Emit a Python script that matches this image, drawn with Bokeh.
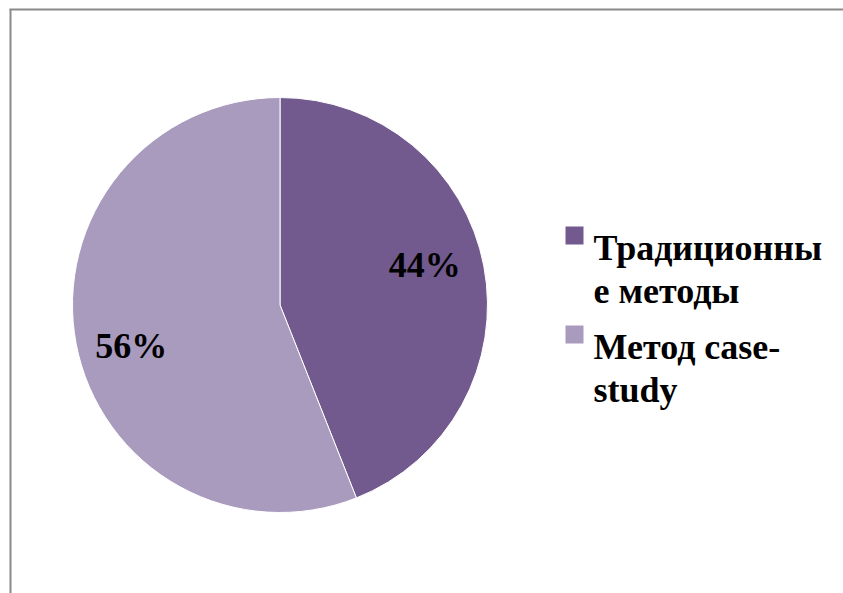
import math
from bokeh.plotting import figure
from bokeh.models import Range1d, ColumnDataSource
from bokeh.core.properties import value
from bokeh.embed import file_html
from bokeh.resources import INLINE

# ---- data ----
categories = ["Традиционные методы", "Метод case-study"]
shares = [44, 56]
pct_labels = ["44%", "56%"]
legend_lines = [["Традиционны", "е методы"], ["Метод case-", "study"]]
colors = ["#725A8E", "#A99BBE"]

W, H = 843, 593
FONT = value("Liberation Serif")
p = figure(width=W, height=H, output_backend="svg", toolbar_location=None,
           x_range=Range1d(0, W), y_range=Range1d(0, H), min_border=0)
p.axis.visible = False
p.grid.visible = False
p.outline_line_color = None
p.background_fill_color = "white"

def X(px):
    return px

def Y(py):
    return H - py

# frame (left & top edges visible)
p.line([X(10), X(10)], [Y(9), Y(600)], line_color="#8a8a8a", line_width=2)
p.line([X(9), X(860)], [Y(9), Y(9)], line_color="#8a8a8a", line_width=2)

# pie
cx, cy, r = X(279.5), Y(304.5), 207.5
total = sum(shares)
starts, ends, mids = [], [], []
acc = 0.0
for s in shares:
    a0 = math.pi / 2 - 2 * math.pi * acc / total
    acc += s
    a1 = math.pi / 2 - 2 * math.pi * acc / total
    starts.append(a0)
    ends.append(a1)
    mids.append((a0 + a1) / 2)

src = ColumnDataSource(dict(start=starts, end=ends, color=colors))
p.wedge(x=cx, y=cy, radius=r, start_angle="start", end_angle="end",
        direction="clock", fill_color="color", line_color="white",
        line_width=1, source=src)

# percent labels
lab_r = [0.70, 0.72]
offs = [(2, 13), (-2, -13)]
lx = [cx + lab_r[i] * r * math.cos(mids[i]) + offs[i][0] for i in range(2)]
ly = [cy + lab_r[i] * r * math.sin(mids[i]) + offs[i][1] for i in range(2)]
p.text(x=lx, y=ly, text=pct_labels, text_font=FONT,
       text_font_style="bold", text_font_size="36px", text_color="black",
       text_align="center", text_baseline="middle")

# legend
sq = 18
baselines = [247, 346]
for i in range(2):
    top = baselines[i] - 21
    p.quad(left=X(565), right=X(565 + sq), top=Y(top),
           bottom=Y(top + sq), fill_color=colors[i], line_color=None)
    for j, t in enumerate(legend_lines[i]):
        p.text(x=[X(593)], y=[Y(baselines[i] + j * 43)], text=[t],
               text_font=FONT, text_font_style="bold",
               text_font_size="36px", text_color="black",
               text_align="left", text_baseline="alphabetic")

open("out.html", "w").write(file_html(p, INLINE))
